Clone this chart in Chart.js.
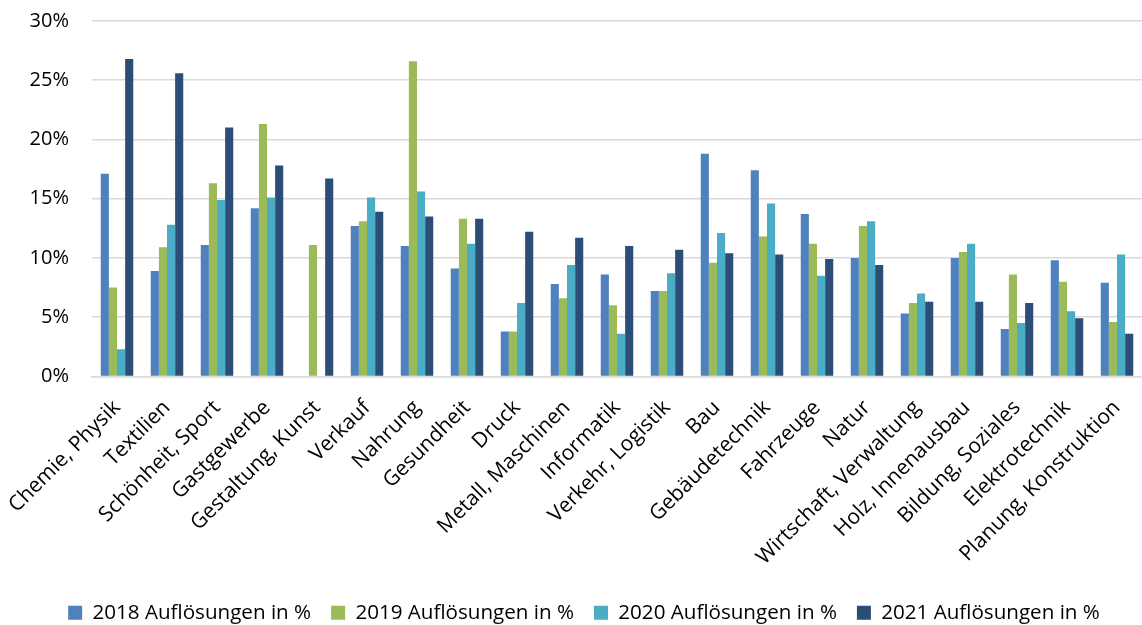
<!DOCTYPE html>
<html>
<head>
<meta charset="utf-8">
<script src="https://cdn.jsdelivr.net/npm/chart.js@4/dist/chart.umd.min.js"></script>
<style>
  html, body { margin: 0; padding: 0; background: #fff; overflow: hidden; }
  #wrap { width: 1142px; height: 633px; }
</style>
</head>
<body>
<div id="wrap"><canvas id="c" width="1142" height="633"></canvas></div>
<script>
// Berufsfelder
const categories = [
  'Chemie, Physik', 'Textilien', 'Schönheit, Sport', 'Gastgewerbe', 'Gestaltung, Kunst',
  'Verkauf', 'Nahrung', 'Gesundheit', 'Druck', 'Metall, Maschinen', 'Informatik',
  'Verkehr, Logistik', 'Bau', 'Gebäudetechnik', 'Fahrzeuge', 'Natur',
  'Wirtschaft, Verwaltung', 'Holz, Innenausbau', 'Bildung, Soziales', 'Elektrotechnik',
  'Planung, Konstruktion'
];

// Auflösungen in % je Jahr
const values2018 = [17.1, 8.9, 11.1, 14.2, 0, 12.7, 11.0, 9.1, 3.8, 7.8, 8.6, 7.2, 18.8, 17.4, 13.7, 10.0, 5.3, 10.0, 4.0, 9.8, 7.9];
const values2019 = [7.5, 10.9, 16.3, 21.3, 11.1, 13.1, 26.6, 13.3, 3.8, 6.6, 6.0, 7.2, 9.6, 11.8, 11.2, 12.7, 6.2, 10.5, 8.6, 8.0, 4.6];
const values2020 = [2.3, 12.8, 14.9, 15.1, 0, 15.1, 15.6, 11.2, 6.2, 9.4, 3.6, 8.7, 12.1, 14.6, 8.5, 13.1, 7.0, 11.2, 4.5, 5.5, 10.3];
const values2021 = [26.8, 25.6, 21.0, 17.8, 16.7, 13.9, 13.5, 13.3, 12.2, 11.7, 11.0, 10.7, 10.4, 10.3, 9.9, 9.4, 6.3, 6.3, 6.2, 4.9, 3.6];

const seriesLabels = ['2018 Auflösungen in %', '2019 Auflösungen in %', '2020 Auflösungen in %', '2021 Auflösungen in %'];
const seriesColors = ['#4F81BD', '#9BBB59', '#4BACC6', '#2C4D75'];
const yTicks = [0, 5, 10, 15, 20, 25, 30];

const FONT = "'Open Sans', sans-serif";

const datasets = [values2018, values2019, values2020, values2021].map((d, i) => ({
  label: seriesLabels[i],
  data: d,
  backgroundColor: seriesColors[i],
  borderWidth: 0,
  categoryPercentage: 0.65,
  barPercentage: 1.0
}));

new Chart(document.getElementById('c'), {
  type: 'bar',
  data: { labels: categories, datasets },
  options: {
    responsive: false,
    animation: false,
    devicePixelRatio: 1,
    layout: { padding: { top: 21, right: 0, bottom: 0, left: 26 } },
    plugins: {
      tooltip: { enabled: false },
      legend: {
        position: 'bottom',
        labels: {
          font: { family: FONT, size: 20.6 },
          color: '#000',
          boxWidth: 14,
          boxHeight: 14,
          padding: 20
        }
      }
    },
    scales: {
      x: {
        grid: { display: false, drawTicks: false },
        border: { display: true, color: '#D9D9D9', width: 1.5 },
        ticks: {
          autoSkip: false,
          minRotation: 45,
          maxRotation: 45,
          padding: 19,
          color: '#000',
          font: { family: FONT, size: 21 }
        },
        afterFit: (scale) => {
          scale.height = 206;
          // rotated labels may overhang the plot edges; keep the plot full width
          scale.paddingLeft = 0;
          scale.paddingRight = 0;
        }
      },
      y: {
        min: 0,
        max: 30,
        afterBuildTicks: (scale) => { scale.ticks = yTicks.map(v => ({ value: v })); },
        grid: { color: '#D9D9D9', lineWidth: 1.5, drawTicks: false },
        border: { display: false },
        ticks: {
          padding: 23,
          color: '#000',
          font: { family: FONT, size: 20 },
          callback: (v) => v + '%'
        },
        afterFit: (scale) => {
          scale.width = 66;
          scale.paddingTop = 12;
          scale.paddingBottom = 12;
        }
      }
    }
  }
});
</script>
</body>
</html>
